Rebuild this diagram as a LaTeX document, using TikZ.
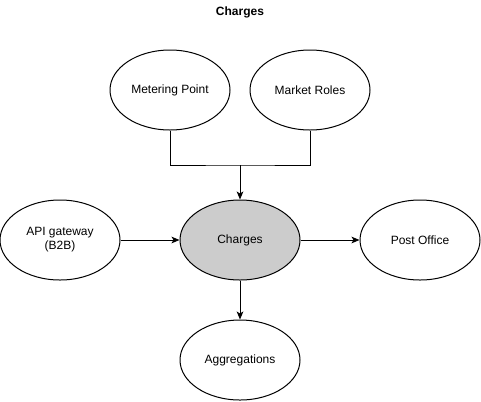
\documentclass[tikz,border=0pt]{standalone}
\usepackage{fontspec}
\setmainfont{Liberation Sans}
\usepackage{xcolor}
\usetikzlibrary{shapes.geometric,arrows.meta}

\tikzset{
    svc/.style={draw, thick, ellipse, minimum width=90pt, minimum height=60pt,
        inner sep=0pt, align=center, font=\fontsize{9pt}{10.5pt}\selectfont},
    flow/.style={-{Stealth[length=6pt,width=5pt,inset=1.5pt]}, thick}
}

\begin{document}
\begin{tikzpicture}[x=0.75pt, y=-0.75pt, thick/.style={line width=0.75pt}]
            \useasboundingbox (0,0) rectangle (481,401);

            % Title
            \node[font=\bfseries\fontsize{9pt}{10.5pt}\selectfont] (title) at (240, 12) {Charges};

            % Sources
            \node[svc] (metering) at (170, 90) {Metering Point};
            \node[svc] (roles) at (310, 90) {Market Roles};
            \node[svc] (gateway) at (60, 240) {API gateway\\(B2B)};

            % Domain
            \node[svc, fill=gray!40] (charges) at (240, 240) {Charges};

            % Targets
            \node[svc] (postoffice) at (420, 240) {Post Office};
            \node[svc] (aggregations) at (240, 360) {Aggregations};

            % Connectors
            \coordinate (join) at (240, 165);
            \draw[thick] (metering.south) |- (join) -| (roles.south);
            \draw[flow] (join) -- (charges.north);
            \draw[flow] (gateway.east) -- (charges.west);
            \draw[flow] (charges.east) -- (postoffice.west);
            \draw[flow] (charges.south) -- (aggregations.north);
        \end{tikzpicture}
\end{document}
